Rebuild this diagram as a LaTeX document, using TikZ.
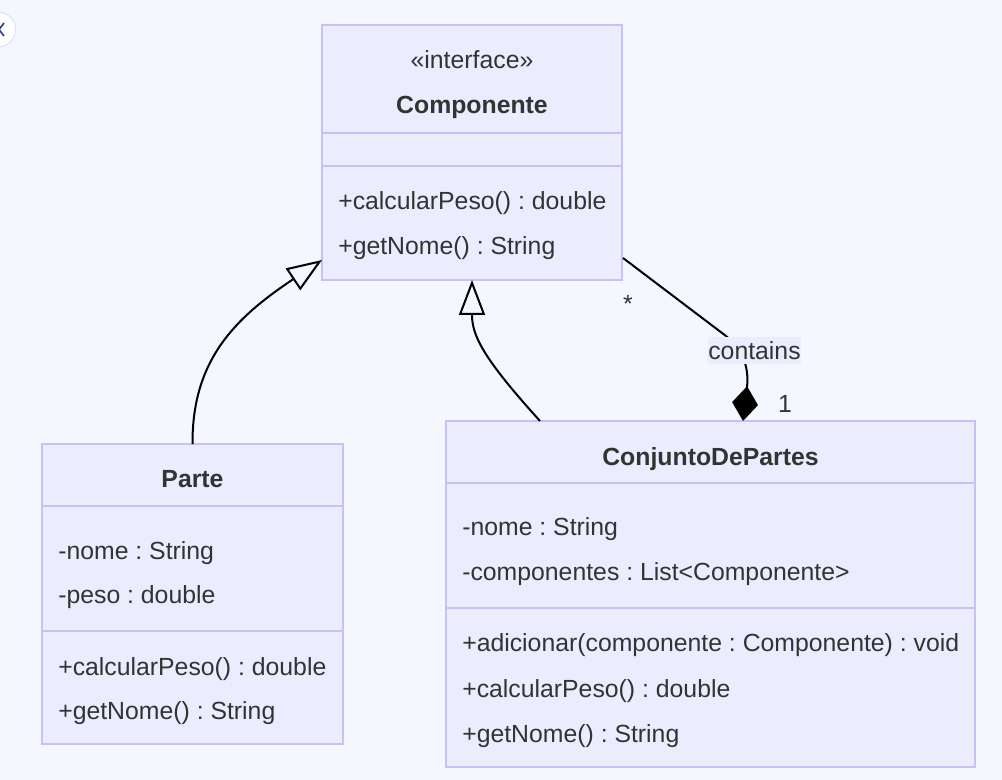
\documentclass[tikz,border=0pt]{standalone}
\usepackage{fontspec}
\setmainfont{Liberation Sans}
\usetikzlibrary{arrows.meta,calc,fit}
\definecolor{bgcol}{HTML}{F5F7FE}
\definecolor{boxfill}{HTML}{ECECFF}
\definecolor{boxline}{HTML}{C3C3F7}
\definecolor{txt}{HTML}{333333}
\definecolor{navline}{HTML}{2B3F7F}
\definecolor{navring}{HTML}{E0E4EE}
\newcommand\umlfs{\fontsize{18.6}{22}\selectfont}
\frenchspacing
\begin{document}
\begin{tikzpicture}[x=0.75pt,y=-0.75pt,
  classbox/.style={draw=boxline, fill=boxfill, line width=1.5pt, inner sep=0pt, outer sep=0pt},
  divider/.style={draw=boxline, line width=1.5pt},
  member/.style={anchor=base west, inner sep=0pt, text=txt, font=\umlfs},
  classtitle/.style={anchor=base, inner sep=0pt, text=txt, font=\umlfs\bfseries},
  stereo/.style={anchor=base, inner sep=0pt, text=txt, font=\umlfs},
  conn/.style={draw=black, line width=1.5pt},
  inherit/.style={conn, -{Triangle[open, length=26.25pt, width=19.5pt, fill=bgcol]}},
  compose/.style={conn, -{Diamond[length=26.25pt, width=19.5pt, fill=black]}},
  mult/.style={inner sep=0pt, text=txt, font=\umlfs},
  edgelabel/.style={fill=boxfill, inner sep=0pt, minimum height=20.25pt, text=txt, font=\umlfs}
]
\useasboundingbox (0,0) rectangle (1002,780);
\fill[bgcol] (0,0) rectangle (1002,780);

% navigation button (partly outside)
\draw[fill=white, draw=navring, line width=0.8pt] (-2,29.5) circle[radius=17.5];
\draw[navline, line width=1.2pt] (4,23) -- (-1,29.5) -- (4,36);

% ---------- Componente ----------
\coordinate (compNW) at (322,25);
\coordinate (compSE) at (622,280);
\node[classbox, fit=(compNW)(compSE)] (comp) {};
\draw[divider] ($(comp.north west)+(0,108)$) -- ($(comp.north east)+(0,108)$);
\draw[divider] ($(comp.north west)+(0,141)$) -- ($(comp.north east)+(0,141)$);
\node[stereo] (compst) at (472,69) {«interface»};
\node[classtitle] (compt) at (472,114) {Componente};
\node[member] (compm1) at (338,210) {+calcularPeso() : double};
\node[member] (compm2) at (338,255) {+getNome() : String};

% ---------- Parte ----------
\coordinate (parNW) at (42,444);
\coordinate (parSE) at (343,744);
\node[classbox, fit=(parNW)(parSE)] (parte) {};
\draw[divider] ($(parte.north west)+(0,62)$) -- ($(parte.north east)+(0,62)$);
\draw[divider] ($(parte.north west)+(0,187)$) -- ($(parte.north east)+(0,187)$);
\node[classtitle] (part) at (192.5,487) {Parte};
\node[member] (para1) at (58,559) {-nome : String};
\node[member] (para2) at (58,603) {-peso : double};
\node[member] (parm1) at (58,675) {+calcularPeso() : double};
\node[member] (parm2) at (58,719) {+getNome() : String};

% ---------- ConjuntoDePartes ----------
\coordinate (conNW) at (446,421);
\coordinate (conSE) at (975,767);
\node[classbox, fit=(conNW)(conSE)] (conj) {};
\draw[divider] ($(conj.north west)+(0,62)$) -- ($(conj.north east)+(0,62)$);
\draw[divider] ($(conj.north west)+(0,187)$) -- ($(conj.north east)+(0,187)$);
\node[classtitle] (conjt) at (710.5,465) {ConjuntoDePartes};
\node[member] (cona1) at (462,535) {-nome : String};
\node[member] (cona2) at (462,580) {-componentes : List<Componente>};
\node[member] (conm1) at (462,651) {+adicionar(componente : Componente) : void};
\node[member] (conm2) at (462,697) {+calcularPeso() : double};
\node[member] (conm3) at (462,742) {+getNome() : String};

% ---------- connectors ----------
\draw[inherit] (parte.north) .. controls (192,360) and (235,318) .. ($(comp.south west)+(0,-20)$);
\draw[inherit] ($(conj.north west)+(94,0)$) .. controls (482,357) and (472,335) .. (comp.south);
\draw[compose] ($(comp.south east)+(1,-22)$) -- (726,336) .. controls (745,352) and (749,370) .. ($(conj.north west)+(297,0)$);

\node[edgelabel] (lbl) at (754.5,350.5) {contains};
\node[mult] (mstar) at (628,304) {*};
\node[mult] (mone) at (785,404) {1};
\end{tikzpicture}
\end{document}
